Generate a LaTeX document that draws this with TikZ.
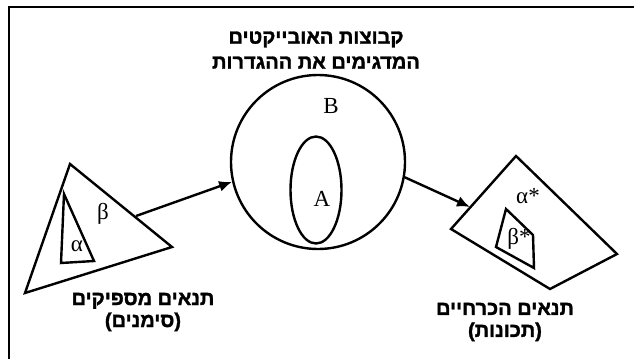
\documentclass[tikz,border=0pt]{standalone}
\usepackage{fontspec}
\setmainfont{Liberation Serif}
\newfontfamily\hebfont[Script=Hebrew,BoldFeatures={FakeBold=1.5}]{Liberation Sans}
\TeXXeTstate=1
\usetikzlibrary{arrows.meta,shapes.geometric}

\begin{document}
\begin{tikzpicture}[
  x=1pt, y=-1pt,
  >=Latex,
  frame/.style={line width=2pt},
  outline/.style={line width=2.4pt, line join=miter},
  setbox/.style={circle, draw, line width=2.4pt, minimum size=174pt, inner sep=0pt},
  subset/.style={ellipse, draw, line width=2.4pt, minimum width=51pt,
                 minimum height=107pt, inner sep=0pt},
  sym/.style={font=\fontsize{23}{25}\selectfont, inner sep=0pt},
  heb/.style={font=\hebfont\bfseries\fontsize{20}{22}\selectfont, align=center,
              inner sep=0pt},
  flow/.style={-{Latex[length=13pt, width=11pt]}, line width=2.4pt},
]
\useasboundingbox (0,0) rectangle (634,359);

% ---------------------------------------------------------------- frame --
\coordinate (fr bl) at (9,359);
\coordinate (fr tl) at (9,7);
\coordinate (fr tr) at (634,7);
\draw[frame] (fr bl) -- (fr tl) -- (fr tr);

% ---------------------------------------------------------------- title --
\node[heb, font=\hebfont\bfseries\fontsize{20}{25}\selectfont] (title) at (316,50)
  {\beginR קבוצות האובייקטים\endR\\\beginR המדגימים את ההגדרות\endR};

% ------------------------------------------------------------ object sets --
\node[setbox] (objset) at (318,162) {};
\node[subset] (subA) at (316,190) {};
\node[sym] (lblB) at (331,106) {B};
\node[sym] (lblA) at (322,199) {A};

% ------------------------------------------------- sufficient conditions --
\coordinate (suf top) at (70,164);
\coordinate (suf right) at (172,247);
\coordinate (suf left) at (25,293);
\draw[outline] (suf top) -- (suf right) -- (suf left) -- cycle;
\coordinate (alf top) at (64,194);
\coordinate (alf right) at (94,261);
\coordinate (alf left) at (61,263);
\draw[outline] (alf top) -- (alf right) -- (alf left) -- cycle;
\node[sym] (lblalpha) at (77,246) {α};
\node[sym] (lblbeta) at (103,214) {β};
\coordinate (suf out) at (136,216);
\node[heb] (suflabel) at (143,312)
  {\beginR תנאים מספיקים\endR\\\beginR (סימנים)\endR};

% --------------------------------------------------- necessary conditions --
\coordinate (nec top) at (516,156);
\coordinate (nec right) at (617,254);
\coordinate (nec bottom) at (550,289);
\coordinate (nec left) at (451,229);
\draw[outline] (nec top) -- (nec right) -- (nec bottom) -- (nec left) -- cycle;
\coordinate (bet a) at (506,209);
\coordinate (bet b) at (533,235);
\coordinate (bet c) at (534,268);
\coordinate (bet d) at (496,247);
\draw[outline] (bet a) -- (bet b) -- (bet c) -- (bet d) -- cycle;
\node[sym] (lblalphastar) at (528,196) {α*};
\node[sym] (lblbetastar) at (519,239) {β*};
\coordinate (nec in) at (470,207);
\node[heb] (neclabel) at (505,322)
  {\beginR תנאים הכרחיים\endR\\\beginR (תכונות)\endR};

% ---------------------------------------------------------------- arrows --
\draw[flow] (suf out) -- (objset.193);
\draw[flow] (objset.-10) -- (nec in);

\end{tikzpicture}
\end{document}
